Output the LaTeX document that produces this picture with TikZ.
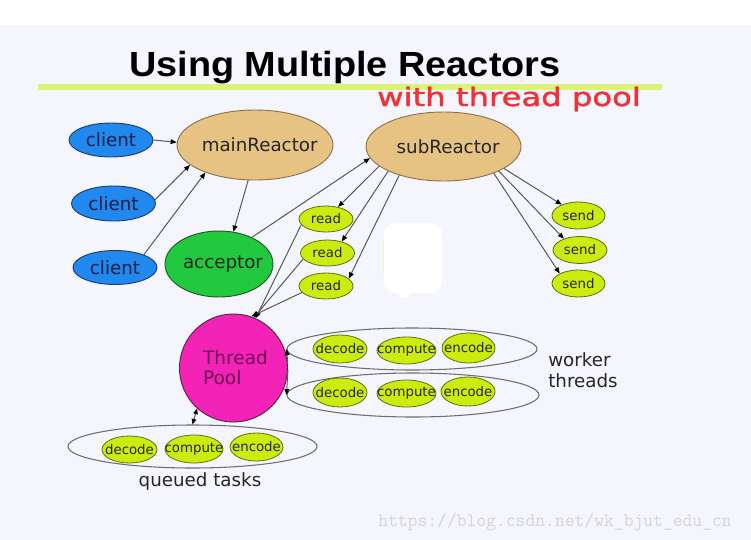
\documentclass[tikz,border=0pt]{standalone}
\usepackage{fontspec}
\setmainfont{DejaVu Sans}
\newfontfamily\titlefont{Liberation Sans}
\newfontfamily\redfont[FakeBold=1.3]{DejaVu Sans}
\usetikzlibrary{shapes.geometric,arrows.meta}
\definecolor{bgc}{RGB}{245,246,253}
\definecolor{linec}{RGB}{220,242,122}
\definecolor{redc}{RGB}{240,50,55}
\definecolor{clientc}{RGB}{33,136,238}
\definecolor{clientd}{RGB}{30,60,120}
\definecolor{clienttx}{RGB}{14,30,70}
\definecolor{tanc}{RGB}{230,194,131}
\definecolor{tand}{RGB}{140,115,80}
\definecolor{accc}{RGB}{34,200,62}
\definecolor{accd}{RGB}{30,90,35}
\definecolor{limec}{RGB}{204,236,16}
\definecolor{limed}{RGB}{90,115,15}
\definecolor{pinkc}{RGB}{243,35,182}
\definecolor{pinkd}{RGB}{90,30,75}
\definecolor{pooltx}{RGB}{110,12,90}
\definecolor{edgec}{RGB}{88,88,88}
\definecolor{grpc}{RGB}{110,110,110}
\definecolor{wmc}{RGB}{212,212,216}
\newcommand\bigtxt{\fontsize{13.7pt}{15.5pt}\selectfont}
\newcommand\smalltxt{\fontsize{10pt}{12pt}\selectfont}
\tikzset{
  sz/.style 2 args={minimum width=#1*0.75pt, minimum height=#2*0.75pt},
  lbl/.style={inner sep=0, text=black!85},
  basee/.style={ellipse, draw, inner sep=0, line width=0.7pt},
  clientn/.style={basee, fill=clientc, draw=clientd, label={[lbl, text=clienttx, font=\bigtxt]center:#1}},
  reactor/.style={basee, fill=tanc, draw=tand, label={[lbl, font=\bigtxt, xshift=3.5pt]center:#1}},
  accn/.style={basee, fill=accc, draw=accd, label={[lbl, font=\bigtxt, xshift=3pt]center:#1}},
  smalln/.style={basee, fill=limec, draw=limed, line width=0.6pt, label={[lbl, font=\smalltxt]center:#1}},
  grp/.style={ellipse, draw=grpc, inner sep=0, line width=0.8pt},
  edge/.style={draw=edgec, line width=0.75pt, -{Triangle[length=4.6pt,width=3.6pt,color=black]}},
  edgeboth/.style={draw=edgec, line width=0.75pt, {Triangle[length=4.2pt,width=3.4pt,color=black]}-{Triangle[length=4.2pt,width=3.4pt,color=black]}},
  plain/.style={inner sep=0}
}
\begin{document}
\begin{tikzpicture}[x=0.75pt,y=-0.75pt]
\useasboundingbox (0,0) rectangle (751,540);
\fill[white] (0,0) rectangle (751,540);
\fill[bgc] (0,25) rectangle (751,540);
% title
\fill[linec] (38,83.5) rectangle (662,89.5);
\node[plain, anchor=base west] (title) at (129,76) {\scalebox{1.084}[1]{\titlefont\bfseries\fontsize{26.2pt}{30pt}\selectfont Using Multiple Reactors}};
\node[plain, anchor=base west, text=redc] (subt) at (377,106) {\scalebox{1.26}[1]{\redfont\fontsize{19.2pt}{22pt}\selectfont with thread pool}};
% erased blob
\fill[limec!30] (382.5,240) rectangle (385,274);
\fill[white, rounded corners=9pt] (384,223) rectangle (442,293);
\fill[white, rounded corners=2pt] (399,290) rectangle (409,298);
% nodes
\node[clientn=client, sz={84}{34}] (c1) at (111,140) {};
\node[clientn=client, sz={84}{35}] (c2) at (113.5,203.5) {};
\node[clientn=client, sz={84}{34}] (c3) at (115,267.5) {};
\node[reactor=mainReactor, sz={156}{70}] (main) at (255,145) {};
\node[reactor=subReactor, sz={155}{69}] (subr) at (443.5,146.5) {};
\node[accn=acceptor, sz={108}{66}] (acc) at (219,264) {};
\node[smalln=read, sz={54}{26}] (r1) at (326,219) {};
\node[smalln=read, sz={54}{26}] (r2) at (327.5,253) {};
\node[smalln=read, sz={54}{26}] (r3) at (326,286) {};
\node[smalln=send, sz={53}{27}] (s1) at (578.5,215.5) {};
\node[smalln=send, sz={54}{27}] (s2) at (580,250) {};
\node[smalln=send, sz={53}{27}] (s3) at (578.5,283.5) {};
\node[circle, draw=pinkd, fill=pinkc, line width=0.7pt, inner sep=0, minimum size=108*0.75pt,
  label={[lbl, text=pooltx, align=left, font=\fontsize{13.9pt}{15pt}\selectfont, xshift=1.5pt]center:Thread\\Pool}] (pool) at (233.5,368) {};
% groups
\node[grp, sz={250}{42}] (g1) at (412,349) {};
\node[grp, sz={252}{44}] (g2) at (413,395) {};
\node[grp, sz={249}{43}] (gq) at (192.5,446.5) {};
\node[smalln=decode, sz={54}{28}] (d1) at (340,349) {};
\node[smalln=compute, sz={59}{27}] (p1) at (406.5,350.5) {};
\node[smalln=encode, sz={53}{30}] (e1) at (468.5,348) {};
\node[smalln=decode, sz={54}{29}] (d2) at (340,392.5) {};
\node[smalln=compute, sz={59}{27}] (p2) at (406.5,393.5) {};
\node[smalln=encode, sz={54}{29}] (e2) at (468,391.5) {};
\node[smalln=decode, sz={55}{27}] (d3) at (129.5,449.5) {};
\node[smalln=compute, sz={58}{28}] (p3) at (194,449) {};
\node[smalln=encode, sz={53}{28}] (e3) at (256.5,447) {};
\node[plain, anchor=west, align=left, text=black!85, font=\bigtxt] (wt) at (548,370) {worker\\threads};
\node[plain, anchor=base, text=black!85, font=\bigtxt] (qt) at (200,486) {queued tasks};
\node[plain, anchor=base west, text=wmc, font=\ttfamily\fontsize{14.3pt}{16pt}\selectfont] (wm) at (378,526) {https://blog.csdn.net/wk\_bjut\_edu\_cn};
% edges
\draw[edge] (c1.0) -- (main.178);
\draw[edge] (c2.5) -- (main.197);
\draw[edge] (c3.24) -- (main.209);
\draw[edge] (main.259) -- (acc.66);
\draw[edge] (acc.39) -- (subr.189);
\draw[edge] (subr.197) -- (r1.45);
\draw[edge] (subr.204) -- (r2.39);
\draw[edge] (subr.213) -- (r3.18);
\draw[edge] (subr.340) -- (s1.147);
\draw[edge] (subr.336) -- (s2.145);
\draw[edge] (subr.332) -- (s3.152);
\draw[edge] (r1.193) -- (pool.66);
\draw[edge] (r2.194) -- (pool.68);
\draw[edge] (r3.195) -- (pool.71);
\draw[edge] (pool.6) -- (g1.west);
\draw[edge] (pool.-2) -- (g2.west);
\draw[edgeboth] (gq.north) -- (pool.228);
\end{tikzpicture}
\end{document}
